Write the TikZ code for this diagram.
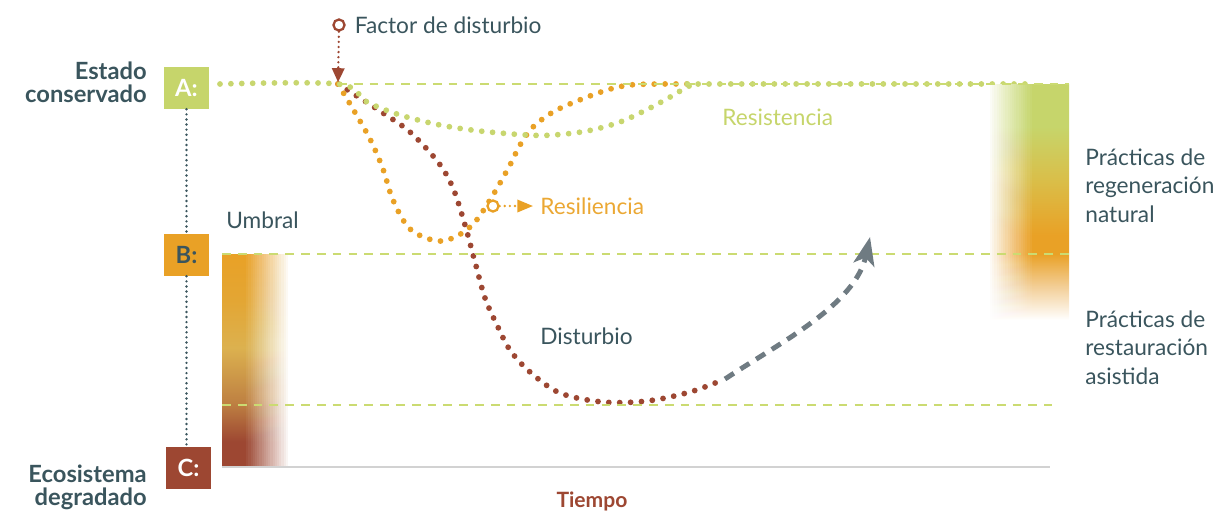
\documentclass[tikz,border=0pt]{standalone}
\usepackage{fontspec}
\setmainfont{Lato}
\usepackage{tikz}
\usetikzlibrary{positioning,arrows.meta,calc}

\definecolor{verde}{HTML}{C6D56B}
\definecolor{verdepunto}{HTML}{C8D66F}
\definecolor{verdeclaro}{HTML}{CBDB72}
\definecolor{naranja}{HTML}{E9A126}
\definecolor{naranjatexto}{HTML}{EBA834}
\definecolor{naranjaclaro}{HTML}{E3A634}
\definecolor{naranjapalido}{HTML}{F3CF98}
\definecolor{ocre}{HTML}{DCB14F}
\definecolor{oliva}{HTML}{D9BF4A}
\definecolor{siena}{HTML}{BE8042}
\definecolor{cafe}{HTML}{9D4732}
\definecolor{pizarra}{HTML}{3A555D}
\definecolor{grisflecha}{HTML}{6F7B82}
\definecolor{grislinea}{HTML}{D2D2D2}

\pgfdeclareverticalshading{barraizq}{100bp}{color(0bp)=(cafe); color(31bp)=(cafe); color(40bp)=(siena); color(53bp)=(ocre); color(64bp)=(naranjaclaro); color(75bp)=(naranja); color(100bp)=(naranja)}
\pgfdeclareverticalshading{barrader}{100bp}{color(0bp)=(white); color(25bp)=(white); color(32bp)=(naranjapalido); color(39bp)=(naranja); color(43bp)=(naranja); color(55bp)=(oliva); color(66bp)=(verde); color(100bp)=(verde)}

\tikzset{
  caja/.style={rectangle, minimum width=25.5pt, minimum height=23.8pt, inner sep=0pt, font=\fontsize{13.5}{14}\selectfont\bfseries},
  texto/.style={inner sep=0pt, text=pizarra, font=\fontsize{12.9}{16.4}\selectfont},
  titulo/.style={inner sep=0pt, text=pizarra, align=right, font=\fontsize{13.5}{13}\selectfont\bfseries},
  puntos/.style={draw=#1, line width=3.3pt, line cap=round, dash pattern=on 0pt off 6.2pt},
  puntitos/.style={line width=1.5pt, line cap=round, dash pattern=on 0pt off 2.9pt},
  nivel/.style={draw=verdeclaro, line width=0.7pt, dash pattern=on 5pt off 4pt},
  marca/.style={circle, fill=white, line width=1.3pt, minimum size=6.3pt, inner sep=0pt}
}

\begin{document}
\begin{tikzpicture}[x=0.02cm, y=-0.02cm]
\useasboundingbox (0,0) rectangle (1216,512);

% curvas de respuesta
\draw[puntos=cafe] plot[smooth, tension=0.55] coordinates {(338,84) (360,98) (383,113) (410,132) (438,162) (453,188) (465,225) (475,262) (485,298) (497,325) (510,350) (530,372) (560,393) (603,402) (647,401) (690,392) (725,379)};
\draw[puntos=naranja] plot[smooth, tension=0.55] coordinates {(338,84) (353,109) (370,139) (383,169) (393,200) (410,229) (437,241) (457,236) (475,222) (493,195) (510,165) (520,145) (533,127) (553,112) (577,101) (607,90) (630,85) (660,84) (690,84)};
\draw[puntos=verdepunto] plot[smooth, tension=0.55] coordinates {(220,84) (338,84) (367,102) (400,115) (440,125) (480,131) (527,135) (553,135) (587,131) (620,122) (650,108) (672,96) (692,85) (715,84) (1030,84)};

% barras de color
\shade[shading=barraizq] (222,254) rectangle (292,467);
\foreach \k in {1,...,20}{
  \pgfmathsetmacro\op{1/(21-\k)}
  \fill[white, opacity=\op] ({244+2.2*\k},254) rectangle (293,467);
}
\shade[shading=barrader] (985,84) rectangle (1069,320);
\foreach \k in {1,...,20}{
  \pgfmathsetmacro\op{1/(21-\k)}
  \fill[white, opacity=\op] (984,84) rectangle ({1034-2.2*\k},320);
}

% niveles
\draw[nivel] (338,84) -- (1069,84);
\draw[nivel] (222,254) -- (1069,254);
\draw[nivel] (222,405) -- (1052,405);
\draw[grislinea, line width=0.9pt] (222,467) -- (1050,467);

% estados
\node[caja, fill=verde, text=white] (A) at (186.5,88) {A:};
\node[caja, fill=naranja, text=pizarra] (B) at (186.5,255) {B:};
\node[caja, fill=cafe, text=white] (C) at (188.5,468) {C:};
\draw[puntitos, draw=pizarra] (A.south) -- (B.north);
\draw[puntitos, draw=pizarra] (B.south) -- (B.south |- C.north);
\node[titulo, anchor=north east] (conservado) at (147,62) {Estado\\conservado};
\node[titulo, anchor=north east] (degradado) at (147,465) {Ecosistema\\degradado};

% factor de disturbio
\node[marca, draw=cafe] (factor) at (339,25) {};
\node[texto, right=5pt of factor] (factortxt) {Factor de disturbio};
\coordinate (inicio) at (338,84);
\draw[puntitos, draw=cafe, -{Triangle[length=8pt, width=7pt]}, shorten >=1pt] (factor) -- (inicio);

% resiliencia
\node[marca, draw=naranja] (resmarca) at (493,206) {};
\node[texto, text=naranjatexto, right=23pt of resmarca] (resiliencia) {Resiliencia};
\draw[puntitos, draw=naranja, -{Triangle[length=9pt, width=7pt]}, shorten >=4pt] (resmarca) -- (resiliencia);

% recuperacion
\coordinate (finD) at (725,379);
\coordinate (punta) at (870,237);
\draw[grisflecha, line width=2.8pt, dash pattern=on 6pt off 4.5pt, -{Stealth[length=16pt, width=12pt, inset=4pt]}] (finD) .. controls (781,342) and (855,305) .. (punta);

% textos
\node[texto, text=verde, anchor=base west] (resistencia) at (722,125) {Resistencia};
\node[texto, anchor=base west] (umbral) at (226,228) {Umbral};
\node[texto, anchor=base west] (disturbio) at (540,344) {Disturbio};
\node[anchor=base, inner sep=0pt, text=cafe, font=\fontsize{12}{12}\selectfont\bfseries] (tiempo) at (592,507) {Tiempo};
\node[texto, align=left, anchor=north west] (regeneracion) at (1085,148) {Prácticas de\\regeneración\\natural};
\node[texto, align=left, anchor=north west] (restauracion) at (1085,310) {Prácticas de\\restauración\\asistida};
\end{tikzpicture}
\end{document}
